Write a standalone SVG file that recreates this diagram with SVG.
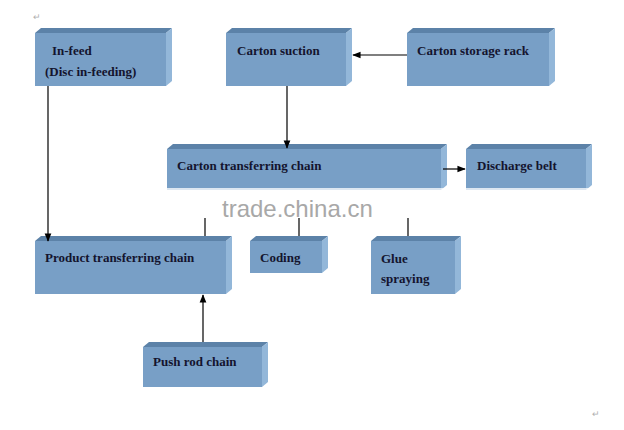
<svg xmlns="http://www.w3.org/2000/svg" width="624" height="430" viewBox="0 0 624 430">
<defs>
<style>
.f{fill:#789fc6}.t{fill:#5c82a8}.s{fill:#93b7d9}
.l{font-family:"Liberation Serif",serif;font-weight:bold;font-size:13px;fill:#14142e}
.m{font-family:"Liberation Serif",serif;font-size:9px;fill:#b0b0b0}
.c{stroke:#000;stroke-width:1.2;fill:none}
</style>
<marker id="a" viewBox="0 0 10 10" refX="9" refY="5" markerWidth="7" markerHeight="7" orient="auto"><path d="M0,1L10,5L0,9z" fill="#000"/></marker>
</defs>
<rect width="624" height="430" fill="#fff"/>
<text class="m" x="33" y="20">↵</text>
<text class="m" x="592" y="417">↵</text>
<g id="infeed"><rect class="f" x="35" y="33" width="131" height="53"/><path class="t" d="M35,33L41,28H172L166,33z"/><path class="s" d="M166,33L172,28V81L166,86z"/><text class="l" x="52" y="55">In-feed</text><text class="l" x="45" y="76">(Disc in-feeding)</text></g>
<g id="suction"><rect class="f" x="226" y="33" width="120" height="53"/><path class="t" d="M226,33L232,28H352L346,33z"/><path class="s" d="M346,33L352,28V81L346,86z"/><text class="l" x="237" y="55">Carton suction</text></g>
<g id="rack"><rect class="f" x="407" y="33" width="142" height="53"/><path class="t" d="M407,33L413,28H555L549,33z"/><path class="s" d="M549,33L555,28V81L549,86z"/><text class="l" x="417" y="55">Carton storage rack</text></g>
<g id="transfer"><rect class="f" x="167" y="149" width="274" height="41"/><path class="t" d="M167,149L173,144H447L441,149z"/><path class="s" d="M441,149L447,144V185L441,190z"/><text class="l" x="177" y="170">Carton transferring chain</text></g>
<g id="discharge"><rect class="f" x="466" y="149" width="120" height="41"/><path class="t" d="M466,149L472,144H592L586,149z"/><path class="s" d="M586,149L592,144V185L586,190z"/><text class="l" x="477" y="170">Discharge belt</text></g>
<g id="product"><rect class="f" x="35" y="241" width="191" height="53"/><path class="t" d="M35,241L41,236H232L226,241z"/><path class="s" d="M226,241L232,236V289L226,294z"/><text class="l" x="45" y="262">Product transferring chain</text></g>
<g id="coding"><rect class="f" x="250" y="241" width="72" height="32"/><path class="t" d="M250,241L256,236H328L322,241z"/><path class="s" d="M322,241L328,236V268L322,273z"/><text class="l" x="260" y="262">Coding</text></g>
<g id="glue"><rect class="f" x="371" y="241" width="84" height="53"/><path class="t" d="M371,241L377,236H461L455,241z"/><path class="s" d="M455,241L461,236V289L455,294z"/><text class="l" x="381" y="263">Glue</text><text class="l" x="381" y="283">spraying</text></g>
<g id="pushrod"><rect class="f" x="143" y="347" width="119" height="40"/><path class="t" d="M143,347L149,342H268L262,347z"/><path class="s" d="M262,347L268,342V382L262,387z"/><text class="l" x="153" y="366">Push rod chain</text></g>
<g id="connectors">
<line class="c" x1="48" y1="86" x2="48" y2="241" marker-end="url(#a)"/>
<line class="c" x1="287" y1="86" x2="287" y2="148" marker-end="url(#a)"/>
<line class="c" x1="407" y1="55" x2="353" y2="55" marker-end="url(#a)"/>
<line class="c" x1="443" y1="169" x2="465" y2="169" marker-end="url(#a)"/>
<line class="c" x1="203" y1="342" x2="203" y2="295" marker-end="url(#a)"/>
<line class="c" x1="205" y1="218" x2="205" y2="236"/>
<line class="c" x1="299" y1="218" x2="299" y2="236"/>
<line class="c" x1="408" y1="218" x2="408" y2="236"/>
</g>
<rect x="160" y="188" width="440" height="30" fill="#fff" opacity="0.75"/>
<text x="222" y="217" font-family="Liberation Sans,sans-serif" font-size="24" fill="#a8a8a8">trade.china.cn</text>
</svg>
